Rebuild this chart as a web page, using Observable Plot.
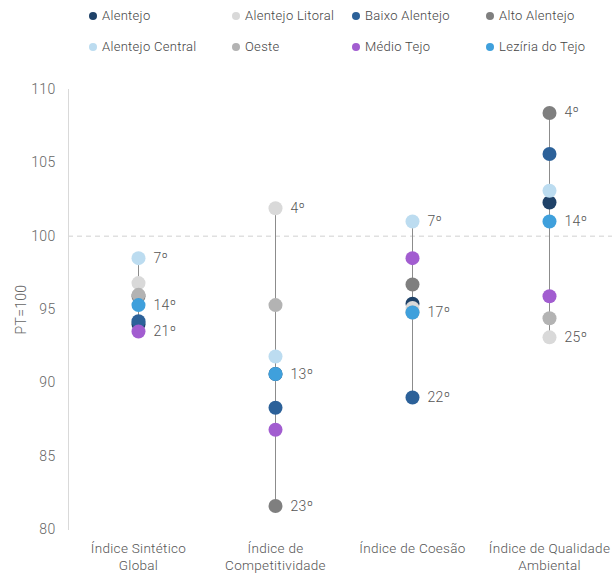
<!DOCTYPE html>
<html>
<head>
<meta charset="utf-8">
<script src="https://cdn.jsdelivr.net/npm/d3@7"></script>
<script src="https://cdn.jsdelivr.net/npm/@observablehq/plot@0.6"></script>
<style>
  html, body { margin: 0; padding: 0; background: #fff; }
  body { width: 612px; height: 574px; overflow: hidden; font-family: Roboto, "Noto Sans", sans-serif; font-weight: 300; }
  #legend { position: relative; height: 65px; }
  .item { position: absolute; display: flex; align-items: center; font-size: 13px; color: #444; white-space: nowrap; letter-spacing: 0.3px; }
  .sw { width: 8px; height: 8px; border-radius: 50%; margin-right: 5px; }
  svg text { font-weight: 300; letter-spacing: 0.3px; }
</style>
</head>
<body>
<div id="legend"></div>
<div id="chart"></div>
<script>
// Indices (PT = 100)
const categories = ["Índice Sintético Global", "Índice de Competitividade", "Índice de Coesão", "Índice de Qualidade Ambiental"];
const tickLabels = ["Índice Sintético\nGlobal", "Índice de\nCompetitividade", "Índice de Coesão", "Índice de Qualidade\nAmbiental"];
const yTicks = [80, 85, 90, 95, 100, 105, 110];

const regions = ["Alentejo", "Alentejo Litoral", "Baixo Alentejo", "Alto Alentejo", "Alentejo Central", "Oeste", "Médio Tejo", "Lezíria do Tejo"];
const colors  = ["#1f4268", "#d9d9d9", "#2c6199", "#7f7f7f", "#bcdcf0", "#b3b3b3", "#a25dd0", "#3fa0dc"];

// values per region, in the order of `categories`
const alentejo        = [94.0, 90.6, 95.4, 102.3];
const alentejoLitoral = [96.8, 101.9, 95.1, 93.1];
const baixoAlentejo   = [94.2, 88.3, 89.0, 105.6];
const altoAlentejo    = [95.9, 81.6, 96.7, 108.4];
const alentejoCentral = [98.5, 91.8, 101.0, 103.1];
const oeste           = [96.0, 95.3, 94.8, 94.4];
const medioTejo       = [93.5, 86.8, 98.5, 95.9];
const leziriaTejo     = [95.3, 90.6, 94.8, 101.0];

const series = [alentejo, alentejoLitoral, baixoAlentejo, altoAlentejo, alentejoCentral, oeste, medioTejo, leziriaTejo];

// ranking labels: [category index, region, text]
const rankLabels = [
  [0, "Alentejo Central", "7º"], [0, "Lezíria do Tejo", "14º"], [0, "Médio Tejo", "21º"],
  [1, "Alentejo Litoral", "4º"], [1, "Lezíria do Tejo", "13º"], [1, "Alto Alentejo", "23º"],
  [2, "Alentejo Central", "7º"], [2, "Lezíria do Tejo", "17º"], [2, "Baixo Alentejo", "22º"],
  [3, "Alto Alentejo", "4º"], [3, "Lezíria do Tejo", "14º"], [3, "Alentejo Litoral", "25º"]
];

const points = [];
regions.forEach((r, i) => series[i].forEach((v, j) => points.push({region: r, category: categories[j], value: v})));

const ranges = categories.map((c, j) => {
  const vals = series.map(s => s[j]);
  return {category: c, lo: d3.min(vals), hi: d3.max(vals)};
});

const labels = rankLabels.map(([j, r, t]) => ({category: categories[j], value: series[regions.indexOf(r)][j], text: t}));

// legend
const legendPos = [[89, 17], [232, 17], [352, 17], [486, 17], [89, 48], [232, 48], [352, 48], [486, 48]];
const legend = document.getElementById("legend");
regions.forEach((r, i) => {
  const d = document.createElement("div");
  d.className = "item";
  d.style.left = legendPos[i][0] + "px";
  d.style.top = (legendPos[i][1] - 9) + "px";
  d.innerHTML = `<span class="sw" style="background:${colors[i]}"></span>${r}`;
  legend.appendChild(d);
});

const chart = Plot.plot({
  width: 612,
  height: 509,
  marginTop: 24,
  marginBottom: 45,
  marginLeft: 68,
  marginRight: 0,
  style: {fontFamily: "Roboto, 'Noto Sans', sans-serif", color: "#666", background: "#fff"},
  x: {type: "point", domain: categories, range: [137, 549], padding: 0},
  y: {domain: [80, 110]},
  color: {domain: regions, range: colors},
  marks: [
    Plot.ruleY([100], {stroke: "#d0d0d0", strokeDasharray: "5,4", strokeWidth: 1}),
    Plot.axisY({ticks: yTicks, tickSize: 0, tickPadding: 13, fontSize: 14, label: "PT=100", labelAnchor: "center", labelArrow: "none", labelOffset: 52, fill: "#666"}),
    Plot.axisX({tickSize: 0, tickPadding: 12, fontSize: 13.5, label: null, tickFormat: d => tickLabels[categories.indexOf(d)], lineHeight: 1.25, fill: "#555"}),
    Plot.frame({anchor: "left", stroke: "#d9d9d9"}),
    Plot.ruleX(ranges, {x: "category", y1: "lo", y2: "hi", stroke: "#8c8c8c", strokeWidth: 1}),
    Plot.dot(points, {x: "category", y: "value", fill: "region", r: 7, stroke: "none"}),
    Plot.text(labels, {x: "category", y: "value", text: "text", dx: 15, textAnchor: "start", fontSize: 14, fill: "#555"})
  ]
});
document.getElementById("chart").appendChild(chart);
</script>
</body>
</html>
